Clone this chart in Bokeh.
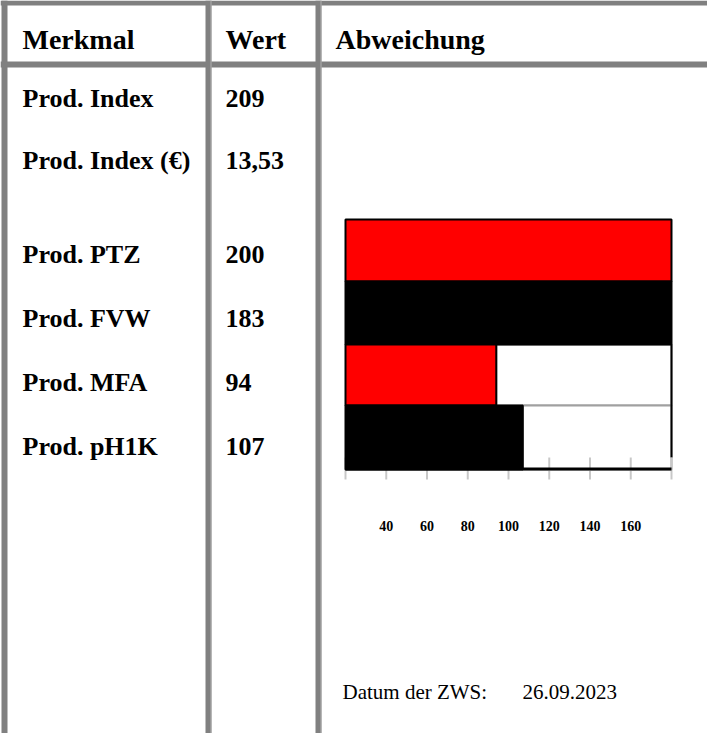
from bokeh.plotting import figure
from bokeh.models import Range1d, ColumnDataSource
from bokeh.core.properties import value
from bokeh.embed import file_html
from bokeh.resources import INLINE

# ---------------- data ----------------
header = ["Merkmal", "Wert", "Abweichung"]
merkmale = ["Prod. Index", "Prod. Index (€)", "Prod. PTZ", "Prod. FVW", "Prod. MFA", "Prod. pH1K"]
werte = ["209", "13,53", "200", "183", "94", "107"]
bar_names = ["Prod. PTZ", "Prod. FVW", "Prod. MFA", "Prod. pH1K"]
bar_values = [200, 183, 94, 107]
bar_colors = ["#ff0000", "#000000", "#ff0000", "#000000"]
axis_min, axis_max = 20, 180
tick_values = [20, 40, 60, 80, 100, 120, 140, 160, 180]
tick_labels = ["", "40", "60", "80", "100", "120", "140", "160", ""]
datum_label = "Datum der ZWS:"
datum_value = "26.09.2023"

# ---------------- layout (pixel positions) ----------------
W, H = 707, 733
grey = "#808080"
serif = value("Liberation Serif")
col_x = [22, 225, 335]
header_base = 39
row_base = [98, 160, 254, 318, 382, 446]
bar_tops = [219, 281, 344, 405]
bar_bottoms = [281, 344, 405, 469]
chart_left_px, chart_right_px = 345, 671
axis_y = 468.5
tick_top, tick_bottom = 457, 479
tick_label_y = 525

p = figure(width=W, height=H, x_range=Range1d(0, W), y_range=Range1d(H, 0),
           output_backend="svg", toolbar_location=None,
           x_axis_location=None, y_axis_location=None, min_border=0)
p.grid.visible = False
p.outline_line_color = None
p.background_fill_color = "white"

scale = (axis_max - axis_min) / (chart_right_px - chart_left_px)
p.extra_x_ranges = {"val": Range1d(axis_min - chart_left_px * scale,
                                   axis_max + (W - chart_right_px) * scale)}

# table borders
p.quad(left=[0, 0], right=[W, W], top=[0, 61], bottom=[5, 67],
       fill_color=grey, line_color=None)
p.quad(left=[1, 205, 315], right=[7, 211, 321], top=[0, 0, 0], bottom=[H, H, H],
       fill_color=grey, line_color=None)
p.quad(left=[210, 320], right=[211, 321], top=[0, 0], bottom=[H, H],
       fill_color="#b0b0b0", line_color=None)

# header text
p.text(x=col_x, y=[header_base] * 3, text=header, text_font=serif,
       text_font_style="bold", text_font_size="28px", text_baseline="alphabetic",
       text_color="black")

# row text
p.text(x=[col_x[0]] * len(merkmale), y=row_base, text=merkmale, text_font=serif,
       text_font_style="bold", text_font_size="26px", text_baseline="alphabetic",
       text_color="black")
p.text(x=[col_x[1]] * len(werte), y=row_base, text=werte, text_font=serif,
       text_font_style="bold", text_font_size="26px", text_baseline="alphabetic",
       text_color="black")

# bar chart
clipped = [min(v, axis_max) for v in bar_values]
centers = [(t + b) / 2 for t, b in zip(bar_tops, bar_bottoms)]
heights = [b - t for t, b in zip(bar_tops, bar_bottoms)]

rest_idx = [i for i, v in enumerate(bar_values) if v < axis_max]
p.hbar(y=[centers[i] for i in rest_idx], height=[heights[i] for i in rest_idx],
       left=[clipped[i] for i in rest_idx], right=[axis_max] * len(rest_idx),
       x_range_name="val", fill_color="white", line_color="#a0a0a0", line_width=2)
if rest_idx:
    p.segment(x0=[axis_max], x1=[axis_max], y0=[bar_tops[rest_idx[0]]], y1=[tick_top],
              x_range_name="val", line_color="black", line_width=2)

# ticks
p.segment(x0=tick_values, x1=tick_values, y0=[tick_top] * len(tick_values),
          y1=[tick_bottom] * len(tick_values), x_range_name="val",
          line_color="#c8c8c8", line_width=2)

src = ColumnDataSource(dict(y=centers, h=heights, r=clipped, c=bar_colors,
                            left=[axis_min] * len(clipped)))
p.hbar(y="y", height="h", left="left", right="r", fill_color="c", source=src,
       x_range_name="val", line_color="black", line_width=2)

# axis line
p.segment(x0=[axis_min], x1=[axis_max], y0=[axis_y], y1=[axis_y], x_range_name="val",
          line_color="black", line_width=3)

p.text(x=tick_values, y=[tick_label_y] * len(tick_values), text=tick_labels,
       x_range_name="val", text_font=serif, text_font_style="bold",
       text_font_size="14px", text_align="center", text_baseline="middle",
       text_color="black")

# date
p.text(x=[342, 522], y=[691, 691], text=[datum_label, datum_value], text_font=serif,
       text_font_size="21px", text_baseline="alphabetic", text_color="black")

open("out.html", "w").write(file_html(p, INLINE))
